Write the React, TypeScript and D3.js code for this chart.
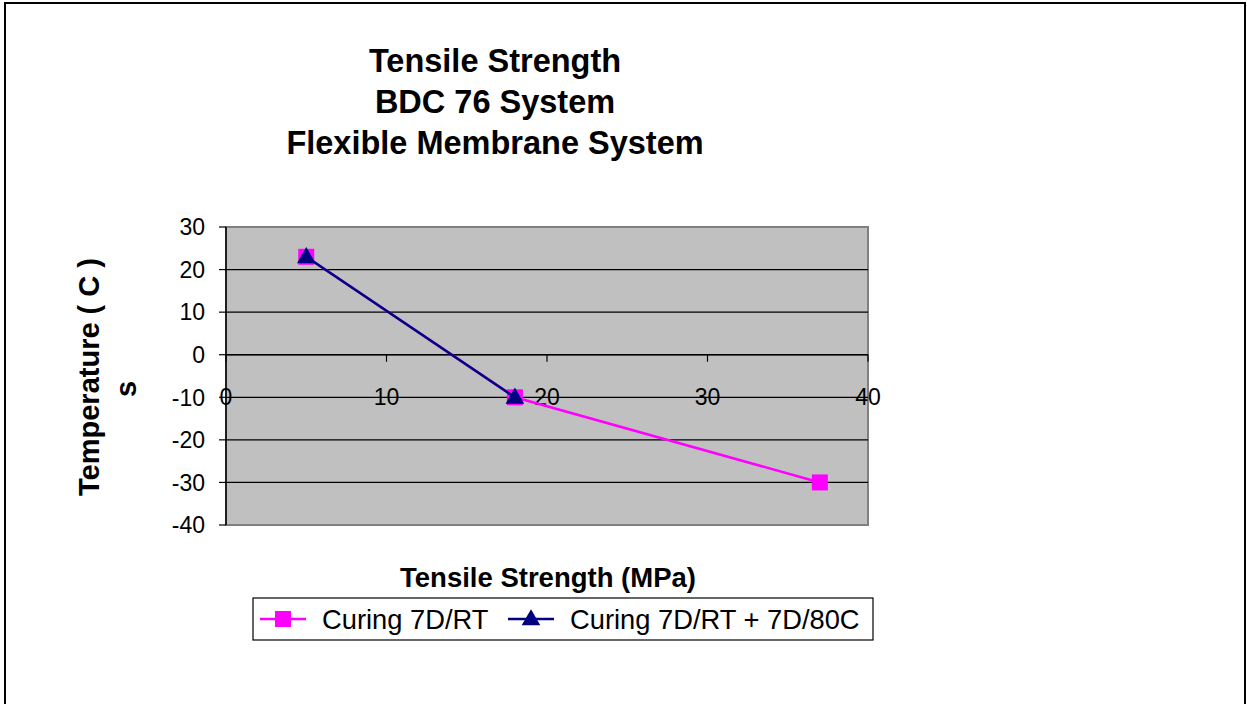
import React from 'react';
import * as d3 from 'd3';

const W = 1247;
const H = 704;

const titleLines = ['Tensile Strength', 'BDC 76 System', 'Flexible Membrane System'];
const xAxisTitle = 'Tensile Strength (MPa)';
const yAxisTitleLines = ['Temperature ( C )', 's'];
const xTicks = [0, 10, 20, 30, 40];
const yTicks = [30, 20, 10, 0, -10, -20, -30, -40];
const seriesNames = ['Curing 7D/RT', 'Curing 7D/RT + 7D/80C'];
const seriesColors = ['#FF00FF', '#000080'];
const s1x = [5, 18, 37];
const s1y = [23, -10, -30];
const s2x = [5, 18];
const s2y = [23, -10];

const FONT = 'Arial, "Liberation Sans", sans-serif';

export default function App() {
  const left = 226, right = 868, top = 227, bottom = 525;
  const x = d3.scaleLinear().domain([0, 40]).range([left, right]);
  const y = d3.scaleLinear().domain([-40, 30]).range([bottom, top]);

  const s1 = s1x.map((v, i) => [v, s1y[i]] as [number, number]);
  const s2 = s2x.map((v, i) => [v, s2y[i]] as [number, number]);
  const line = d3.line<[number, number]>().x(d => x(d[0])).y(d => y(d[1]));
  const tri = d3.symbol().type(d3.symbolTriangle).size(150)();

  const tickFs = 23;
  const titleFs = 32.5;
  const xAxisFs = 27.5;
  const yAxisFs = 29;
  const legFs = 27.3;

  const legX = 253, legY = 598, legW = 620, legH = 42;
  const legCy = legY + legH / 2;
  const yTitleCy = [377, 389];

  return (
    <svg width={W} height={H} style={{ position: 'absolute', left: 0, top: 0, background: '#fff' }} fontFamily={FONT}>
      <rect x={0} y={0} width={W} height={H} fill="#fff" />
      <rect x={5} y={3} width={1240} height={H + 20} fill="none" stroke="#000" strokeWidth={2} />

      {titleLines.map((t, i) => (
        <text key={i} x={495} y={60 + i * 41 + titleFs * 0.36} textAnchor="middle" fontSize={titleFs} fontWeight="bold">{t}</text>
      ))}

      <rect x={left} y={top} width={right - left} height={bottom - top} fill="#C0C0C0" stroke="#808080" strokeWidth={2} />
      {yTicks.filter(t => t !== 30 && t !== -40).map(t => (
        <line key={t} x1={left} x2={right} y1={y(t)} y2={y(t)} stroke="#000" strokeWidth={1.2} />
      ))}
      <line x1={left} x2={left} y1={top} y2={bottom} stroke="#000" strokeWidth={1.5} />
      {yTicks.map(t => (
        <g key={t}>
          <line x1={left - 7} x2={left} y1={y(t)} y2={y(t)} stroke="#000" strokeWidth={1.2} />
          <text x={205} y={y(t) + tickFs * 0.36} textAnchor="end" fontSize={tickFs}>{t}</text>
        </g>
      ))}
      <line x1={left} x2={right} y1={y(0)} y2={y(0)} stroke="#000" strokeWidth={1.5} />
      {xTicks.map(t => (
        <g key={t}>
          <line x1={x(t)} x2={x(t)} y1={y(0)} y2={y(0) + 7} stroke="#000" strokeWidth={1.2} />
          <text x={x(t)} y={397 + tickFs * 0.36} textAnchor="middle" fontSize={tickFs}>{t}</text>
        </g>
      ))}

      <path d={line(s1) || ''} fill="none" stroke={seriesColors[0]} strokeWidth={2.5} />
      {s1.map((d, i) => (
        <rect key={i} x={x(d[0]) - 8} y={y(d[1]) - 8} width={16} height={16} fill={seriesColors[0]} />
      ))}
      <path d={line(s2) || ''} fill="none" stroke={seriesColors[1]} strokeWidth={2.5} />
      {s2.map((d, i) => (
        <path key={i} d={tri || ''} transform={`translate(${x(d[0])},${y(d[1]) + 1})`} fill={seriesColors[1]} />
      ))}

      <text x={548} y={577 + xAxisFs * 0.36} textAnchor="middle" fontSize={xAxisFs} fontWeight="bold">{xAxisTitle}</text>
      {yAxisTitleLines.map((t, i) => (
        <text key={i} transform={`translate(${89 + i * 37},${yTitleCy[i]}) rotate(-90)`} textAnchor="middle" fontSize={yAxisFs} fontWeight="bold" dy={yAxisFs * 0.36}>{t}</text>
      ))}

      <rect x={legX} y={legY} width={legW} height={legH} fill="#fff" stroke="#000" strokeWidth={1.2} />
      <line x1={260} x2={306} y1={legCy} y2={legCy} stroke={seriesColors[0]} strokeWidth={2.5} />
      <rect x={283 - 8} y={legCy - 8} width={16} height={16} fill={seriesColors[0]} />
      <text x={322} y={legCy + legFs * 0.36} fontSize={legFs}>{seriesNames[0]}</text>
      <line x1={508} x2={554} y1={legCy} y2={legCy} stroke={seriesColors[1]} strokeWidth={2.5} />
      <path d={tri || ''} transform={`translate(531,${legCy + 1})`} fill={seriesColors[1]} />
      <text x={570} y={legCy + legFs * 0.36} fontSize={legFs}>{seriesNames[1]}</text>
    </svg>
  );
}
